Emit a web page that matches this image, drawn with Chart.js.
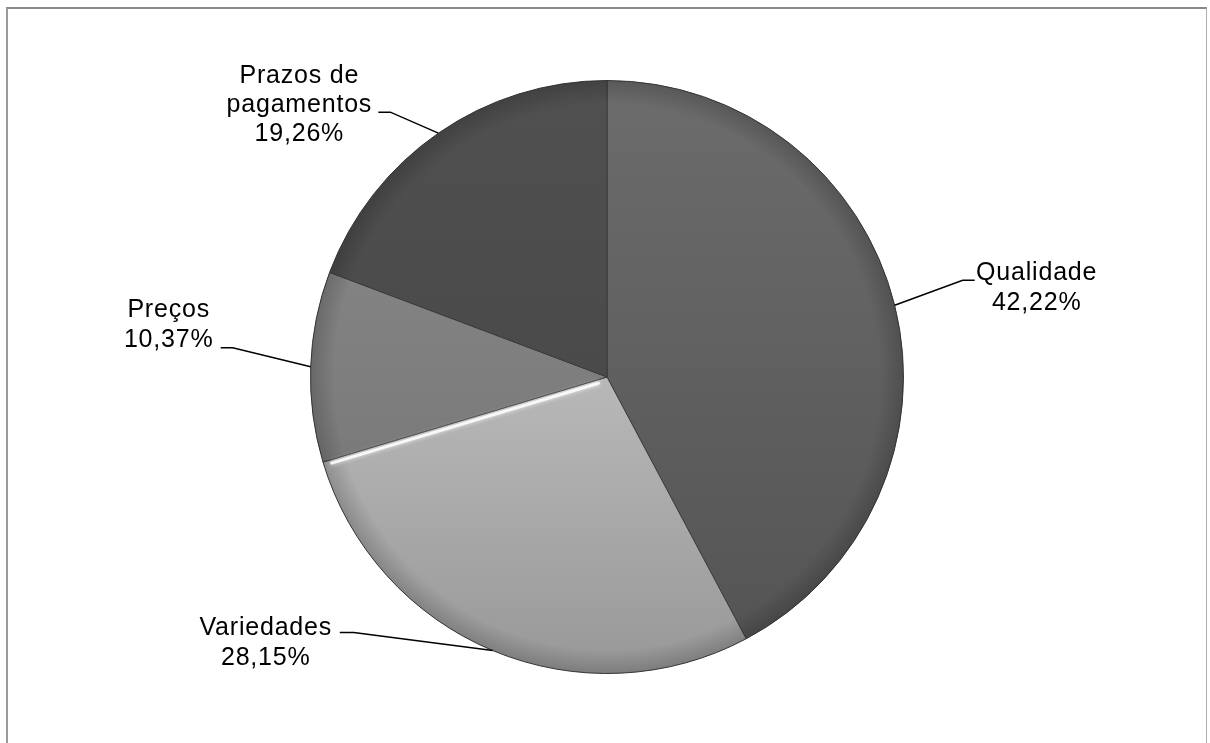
<!DOCTYPE html>
<html lang="pt">
<head>
<meta charset="utf-8">
<title>Fatores de escolha</title>
<script src="https://cdn.jsdelivr.net/npm/chart.js@4/dist/chart.umd.min.js"></script>
<style>
  html, body { margin: 0; padding: 0; background: #fff; }
  #wrap { position: relative; width: 1210px; height: 743px; overflow: hidden; }
  #frame {
    position: absolute; left: 6px; top: 7px; width: 1198px; height: 800px;
    border-top: 2px solid #8a8a8a; border-left: 2px solid #9a9a9a; border-right: 1px solid #b0b0b0;
  }
  canvas { position: absolute; left: 0; top: 0; }
</style>
</head>
<body>
<div id="wrap">
  <div id="frame"></div>
  <canvas id="pie" width="1210" height="743"></canvas>
</div>
<script>
const categories = ["Qualidade", "Variedades", "Preços", "Prazos de pagamentos"];
const shares = [42.22, 28.15, 10.37, 19.26];
// text lines above the percentage, per slice
const nameLines = [["Qualidade"], ["Variedades"], ["Preços"], ["Prazos de", "pagamentos"]];

// grey shades, top and bottom of the pie's vertical gradient, per slice
const shadeTop = ["#6c6c6c", "#d8d8d8", "#8c8c8c", "#505050"];
const shadeBottom = ["#535353", "#989898", "#707070", "#444444"];

// leader line: elbow offset from the rim point, short horizontal tail, text anchor from tail end
const leaderLayout = [
  { elbow: [68, -25], tail: 12, textDx: 62, textDy: 0, lineH: 30 },
  { elbow: [-139, -18], tail: -14, textDx: -74, textDy: 2, lineH: 30 },
  { elbow: [-78, -19], tail: -12, textDx: -52, textDy: -31, lineH: 30 },
  { elbow: [-48, -21], tail: -12, textDx: -79, textDy: -29, lineH: 29 },
];

function pct(v) {
  return v.toFixed(2).replace(".", ",") + "%";
}

function sliceFill(ctx) {
  const area = ctx.chart.chartArea;
  if (!area) return shadeTop[ctx.dataIndex];
  const g = ctx.chart.ctx.createLinearGradient(0, area.top, 0, area.bottom);
  g.addColorStop(0, shadeTop[ctx.dataIndex]);
  g.addColorStop(1, shadeBottom[ctx.dataIndex]);
  return g;
}

// soft darkening along the rim plus the bright bevel edge on the light slice
const bevelPlugin = {
  id: "bevel",
  afterDatasetsDraw(chart) {
    const arcs = chart.getDatasetMeta(0).data;
    const ctx = chart.ctx;
    const { x, y, outerRadius } = arcs[0];

    ctx.save();
    const rim = ctx.createRadialGradient(x, y, 0, x, y, outerRadius);
    rim.addColorStop(0, "rgba(0,0,0,0)");
    rim.addColorStop(0.92, "rgba(0,0,0,0)");
    rim.addColorStop(1, "rgba(0,0,0,0.18)");
    ctx.fillStyle = rim;
    ctx.beginPath();
    ctx.arc(x, y, outerRadius, 0, Math.PI * 2);
    ctx.fill();

    // highlight along the edge shared by Variedades and Preços
    const a = arcs[1].endAngle;
    const nx = -Math.sin(a), ny = Math.cos(a);
    const off = 3.5;
    ctx.strokeStyle = "rgba(255,255,255,0.85)";
    ctx.lineWidth = 3;
    ctx.lineCap = "round";
    ctx.shadowColor = "rgba(255,255,255,0.9)";
    ctx.shadowBlur = 4;
    ctx.beginPath();
    ctx.moveTo(x - nx * off + Math.cos(a) * 10, y - ny * off + Math.sin(a) * 10);
    ctx.lineTo(x - nx * off + Math.cos(a) * (outerRadius - 8), y - ny * off + Math.sin(a) * (outerRadius - 8));
    ctx.stroke();
    ctx.restore();
  }
};

// category names and percentages with leader lines to each slice
const leaderPlugin = {
  id: "leaders",
  afterDraw(chart) {
    const arcs = chart.getDatasetMeta(0).data;
    const ctx = chart.ctx;
    ctx.save();
    ctx.font = "25px 'Liberation Sans', Arial, sans-serif";
    ctx.letterSpacing = "0.8px";
    ctx.fillStyle = "#000";
    ctx.strokeStyle = "#000";
    ctx.lineWidth = 1.5;
    ctx.textAlign = "center";
    ctx.textBaseline = "alphabetic";

    arcs.forEach((arc, i) => {
      const mid = (arc.startAngle + arc.endAngle) / 2;
      const ex = arc.x + Math.cos(mid) * arc.outerRadius;
      const ey = arc.y + Math.sin(mid) * arc.outerRadius;
      const lay = leaderLayout[i];
      const bx = ex + lay.elbow[0];
      const by = ey + lay.elbow[1];
      const tx = bx + lay.tail;

      ctx.beginPath();
      ctx.moveTo(ex, ey);
      ctx.lineTo(bx, by);
      ctx.lineTo(tx, by);
      ctx.stroke();

      const lines = nameLines[i].concat([pct(shares[i])]);
      lines.forEach((t, k) => {
        ctx.fillText(t, tx + lay.textDx, by + lay.textDy + k * lay.lineH);
      });
    });
    ctx.restore();
  }
};

new Chart(document.getElementById("pie"), {
  type: "pie",
  data: {
    labels: categories,
    datasets: [{
      data: shares,
      backgroundColor: sliceFill,
      borderColor: "#3a3a3a",
      borderWidth: 1,
    }]
  },
  options: {
    responsive: false,
    animation: false,
    layout: { padding: { left: 310, right: 306, top: 80, bottom: 69 } },
    plugins: {
      legend: { display: false },
      tooltip: { enabled: false },
    }
  },
  plugins: [bevelPlugin, leaderPlugin]
});
</script>
</body>
</html>
